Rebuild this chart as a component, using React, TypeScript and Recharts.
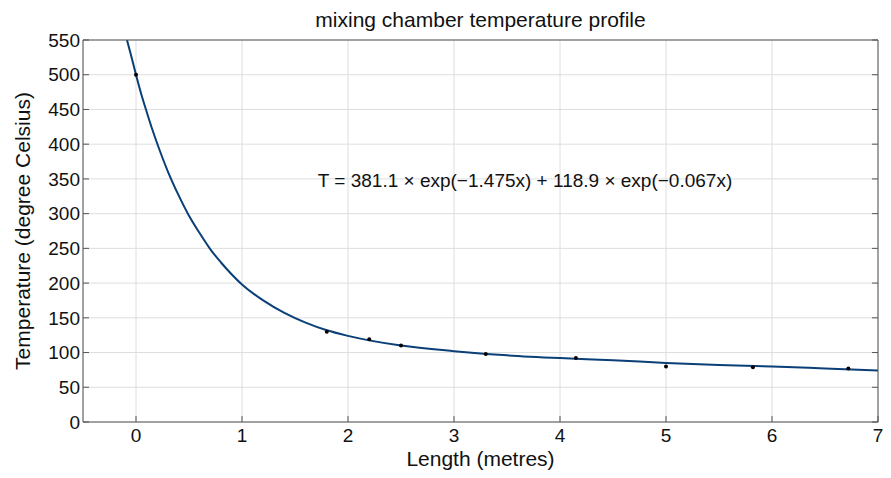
import {
  ComposedChart,
  Line,
  Scatter,
  XAxis,
  YAxis,
  CartesianGrid,
  ReferenceDot,
  Label,
} from "recharts";

// fitted curve
const curveX = [-0.085, -0.05, 0, 0.05, 0.1, 0.15, 0.2, 0.3, 0.4, 0.5, 0.6, 0.7, 0.8, 1.0, 1.2, 1.4, 1.6, 1.8, 2.0, 2.5, 3.0, 3.5, 4.0, 4.5, 5.0, 5.5, 6.0, 6.5, 7.0];
const curveT = [550, 530, 500, 472, 447, 423, 401, 361, 327, 297, 272, 249, 230, 198, 175, 157, 143, 132, 124, 110, 102, 96, 92, 89, 85, 82, 80, 77, 74];

// measured points
const sampleX = [0, 1.8, 2.2, 2.5, 3.3, 4.15, 5.0, 5.82, 6.72];
const sampleT = [500, 130, 119, 110, 98, 92, 80, 79, 77];

const xTicks = [0, 1, 2, 3, 4, 5, 6, 7];
const yTicks = [0, 50, 100, 150, 200, 250, 300, 350, 400, 450, 500, 550];

const fitText = "T = 381.1 × exp(−1.475x) + 118.9 × exp(−0.067x)";

const curve = curveX.map((x, i) => ({ x, t: curveT[i] }));
const samples = sampleX.map((x, i) => ({ x, t: sampleT[i] }));

const FONT = "'Liberation Sans', Arial, sans-serif";
const axisColor = "#555";
const tickFont = { fill: "#111", fontSize: 19, fontFamily: FONT };
const labelStyle = { fontSize: 21, fontFamily: FONT, fill: "#111" };

export default function App() {
  return (
    <div style={{ position: "absolute", left: 0, top: 0, background: "#fff" }}>
      <ComposedChart
        width={891}
        height={478}
        margin={{ top: 39, right: 12, bottom: 0, left: 0 }}
      >
        <CartesianGrid stroke="#dedede" strokeWidth={1} />
        <XAxis
          dataKey="x"
          type="number"
          domain={[-0.5, 7]}
          ticks={xTicks}
          allowDataOverflow
          height={56}
          tickSize={-6}
          tickMargin={13}
          stroke={axisColor}
          tick={tickFont}
        >
          <Label value="Length (metres)" position="insideBottom" offset={12} style={labelStyle} />
        </XAxis>
        <XAxis
          xAxisId="top"
          orientation="top"
          type="number"
          domain={[-0.5, 7]}
          ticks={xTicks}
          allowDataOverflow
          height={1}
          tickSize={-6}
          tickFormatter={() => ""}
          stroke={axisColor}
        >
          <Label value="mixing chamber temperature profile" position="top" offset={12} style={labelStyle} />
        </XAxis>
        <YAxis
          type="number"
          domain={[0, 550]}
          ticks={yTicks}
          allowDataOverflow
          width={83}
          tickSize={-6}
          tickMargin={9}
          stroke={axisColor}
          tick={tickFont}
        >
          <Label
            value="Temperature (degree Celsius)"
            angle={-90}
            position="insideLeft"
            offset={23}
            style={{ ...labelStyle, textAnchor: "middle" }}
          />
        </YAxis>
        <YAxis
          yAxisId="right"
          orientation="right"
          type="number"
          domain={[0, 550]}
          ticks={yTicks}
          allowDataOverflow
          width={1}
          tickSize={-6}
          tickFormatter={() => ""}
          stroke={axisColor}
        />
        <Line
          data={curve}
          dataKey="t"
          type="monotone"
          stroke="#0a3f78"
          strokeWidth={2}
          dot={false}
          isAnimationActive={false}
        />
        <Scatter
          data={samples}
          dataKey="t"
          fill="#000"
          shape={(p: any) => <circle cx={p.cx} cy={p.cy} r={2} fill="#000" />}
          isAnimationActive={false}
        />
        <ReferenceDot x={3.67} y={348} r={0} fill="none" stroke="none">
          <Label value={fitText} position="center" style={{ fontSize: 19, fontFamily: FONT, fill: "#111" }} />
        </ReferenceDot>
      </ComposedChart>
    </div>
  );
}
